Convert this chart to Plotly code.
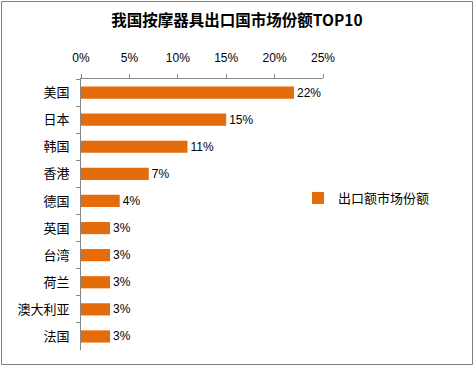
import plotly.graph_objects as go

categories = ["美国", "日本", "韩国", "香港", "德国", "英国", "台湾", "荷兰", "澳大利亚", "法国"]
values = [22.0, 15.0, 11.0, 7.0, 4.0, 3.0, 3.0, 3.0, 3.0, 3.0]
labels = ["22%", "15%", "11%", "7%", "4%", "3%", "3%", "3%", "3%", "3%"]
x_ticks = [0, 5, 10, 15, 20, 25]
x_tick_labels = ["0%", "5%", "10%", "15%", "20%", "25%"]
series_name = "出口额市场份额"
title = "我国按摩器具出口国市场份额TOP10"

W, H = 474, 366
L, R, T, B = 81, 151, 79, 16
pw, ph = W - L - R, H - T - B

fig = go.Figure()
fig.add_trace(go.Bar(
    x=values, y=categories, orientation="h", name=series_name,
    marker=dict(color="#E46C0A", line=dict(width=0)),
    width=0.45, text=labels, textposition="outside", cliponaxis=False,
    constraintext="none",
    textfont=dict(family="Liberation Sans, Arial", size=12, color="#000000"),
    showlegend=True,
))

fig.update_layout(
    width=W, height=H,
    margin=dict(l=L, r=R, t=T, b=B, autoexpand=False),
    paper_bgcolor="white", plot_bgcolor="white",
    font=dict(family="Noto Sans CJK SC", color="#000000"),
    title=dict(text="<b>" + title + "</b>", x=0.5, xref="container", xanchor="center",
               y=1 - 21 / H, yref="container", yanchor="middle",
               font=dict(size=15.5, family="Noto Sans CJK SC", color="#000000")),
    xaxis=dict(side="top", range=[0, 25], tickvals=x_ticks, ticktext=x_tick_labels,
               showgrid=False, zeroline=False, showline=True, linecolor="#868686",
               linewidth=1, ticks="outside", ticklen=4, tickcolor="#868686",
               automargin=False, ticklabelstandoff=7,
               tickfont=dict(family="Liberation Sans, Arial", size=12)),
    yaxis=dict(autorange="reversed", showgrid=False, zeroline=False, showline=True,
               linecolor="#868686", linewidth=1, ticks="outside", ticklen=4,
               tickcolor="#868686", tickson="boundaries", automargin=False,
               ticklabelstandoff=8,
               tickfont=dict(family="Noto Sans CJK SC", size=13)),
    bargap=0.55,
    legend=dict(x=(298 - L) / pw, y=(H - B - 198) / ph, xanchor="left", yanchor="middle",
                bgcolor="rgba(0,0,0,0)", font=dict(size=13, family="Noto Sans CJK SC"),
                itemwidth=30, tracegroupgap=0),
    shapes=[dict(type="rect", xref="paper", yref="paper",
                 x0=(1.5 - L) / pw, x1=(W - 1.5 - L) / pw,
                 y0=(1.5 - B) / ph, y1=(H - 1.5 - B) / ph,
                 line=dict(color="#808080", width=1))],
)

fig.write_html("out.html", config={"displayModeBar": False},
               post_script="document.body.style.margin='0';document.body.style.overflow='hidden';")
